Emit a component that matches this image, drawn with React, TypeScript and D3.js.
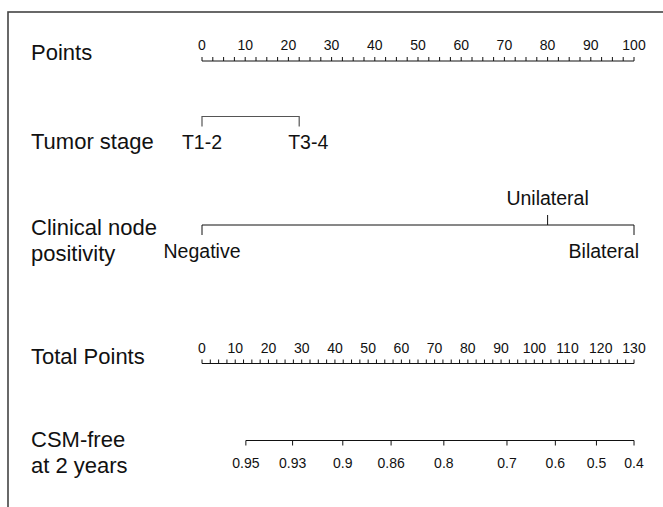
import React from 'react';
import * as d3 from 'd3';

// nomogram rows, values
const pointsLabels = [0, 10, 20, 30, 40, 50, 60, 70, 80, 90, 100];
const totalLabels = [0, 10, 20, 30, 40, 50, 60, 70, 80, 90, 100, 110, 120, 130];
const tumorStages = ['T1-2', 'T3-4'];
const tumorPoints = [0, 22.5];
const nodeCategories = ['Negative', 'Unilateral', 'Bilateral'];
const nodePoints = [0, 80, 100];
const csmTicks = [0.95, 0.93, 0.9, 0.86, 0.8, 0.7, 0.6, 0.5, 0.4];
// survival model: log(-log S) = base + slope * total points
const csmBase = -3.296;
const csmSlope = 0.02468;

const W = 663;
const H = 507;
const x0 = 202;
const x1 = 634;
const labelX = 31;
const font = '"Liberation Sans", Arial, Helvetica, sans-serif';
const ink = '#111';

const xPoints = d3.scaleLinear().domain([0, 100]).range([x0, x1]);
const xTotal = d3.scaleLinear().domain([0, 130]).range([x0, x1]);
const csmToTotal = (s: number) => (Math.log(-Math.log(s)) - csmBase) / csmSlope;

const RowLabel = ({ y, lines }: { y: number; lines: string[] }) => (
  <text x={labelX} y={y} fontSize={22} fill={ink} fontFamily={font}>
    {lines.map((l, i) => (
      <tspan key={l} x={labelX} dy={i === 0 ? 0 : 26}>{l}</tspan>
    ))}
  </text>
);

const ScaleAxis = ({ scale, y, labels, labelY }: any) => {
  const [d0, d1] = scale.domain();
  const minor = d3.range(d0, d1 + 0.001, 2.5);
  return (
    <g>
      <line x1={scale(d0)} x2={scale(d1)} y1={y} y2={y} stroke={ink} strokeWidth={1} />
      {minor.map((v: number) => (
        <line key={v} x1={scale(v)} x2={scale(v)} y1={y} y2={y - 4} stroke={ink} strokeWidth={1} />
      ))}
      {labels.map((v: number) => (
        <text key={v} x={scale(v)} y={labelY} fontSize={14} textAnchor="middle" fill={ink} fontFamily={font}>
          {v}
        </text>
      ))}
    </g>
  );
};

export default function App() {
  const tumorX = tumorPoints.map((p) => xPoints(p));
  const nodeX = nodePoints.map((p) => xPoints(p));
  const csmX = csmTicks.map((s) => xTotal(csmToTotal(s)));
  const tumorY = 116.5;
  const nodeY = 225;
  const csmY = 440.5;
  const catSize = 19.5;

  return (
    <svg width={W} height={H} style={{ position: 'absolute', left: 0, top: 0, background: '#fff' }}>
      <rect x={8} y={12} width={W} height={H} fill="none" stroke="#444" strokeWidth={1.6} />

      <RowLabel y={60} lines={['Points']} />
      <ScaleAxis scale={xPoints} y={61} labels={pointsLabels} labelY={50} />

      <RowLabel y={149} lines={['Tumor stage']} />
      <path
        d={`M${tumorX[0]},${tumorY + 10}V${tumorY}H${tumorX[1]}V${tumorY + 10}`}
        fill="none" stroke="#555" strokeWidth={1.2}
      />
      {tumorStages.map((t, i) => (
        <text key={t} x={tumorX[i] + (i === 1 ? 9 : 0)} y={149} fontSize={catSize} textAnchor="middle" fill={ink} fontFamily={font}>
          {t}
        </text>
      ))}

      <RowLabel y={235} lines={['Clinical node', 'positivity']} />
      <line x1={nodeX[0]} x2={nodeX[2]} y1={nodeY} y2={nodeY} stroke={ink} strokeWidth={1} />
      <line x1={nodeX[0]} x2={nodeX[0]} y1={nodeY} y2={nodeY + 10} stroke={ink} />
      <line x1={nodeX[1]} x2={nodeX[1]} y1={nodeY} y2={nodeY - 10} stroke={ink} />
      <line x1={nodeX[2]} x2={nodeX[2]} y1={nodeY} y2={nodeY + 10} stroke={ink} />
      <text x={nodeX[0]} y={257.5} fontSize={catSize} textAnchor="middle" fill={ink} fontFamily={font}>{nodeCategories[0]}</text>
      <text x={nodeX[1]} y={205} fontSize={catSize} textAnchor="middle" fill={ink} fontFamily={font}>{nodeCategories[1]}</text>
      <text x={nodeX[2] + 5} y={257.5} fontSize={catSize} textAnchor="end" fill={ink} fontFamily={font}>{nodeCategories[2]}</text>

      <RowLabel y={364} lines={['Total Points']} />
      <ScaleAxis scale={xTotal} y={363.5} labels={totalLabels} labelY={353} />

      <RowLabel y={447} lines={['CSM-free', 'at 2 years']} />
      <line x1={csmX[0]} x2={csmX[csmX.length - 1]} y1={csmY} y2={csmY} stroke={ink} strokeWidth={1} />
      {csmTicks.map((s, i) => (
        <g key={s}>
          <line x1={csmX[i]} x2={csmX[i]} y1={csmY} y2={csmY + 5} stroke={ink} />
          <text x={csmX[i]} y={468} fontSize={14} textAnchor="middle" fill={ink} fontFamily={font}>{s}</text>
        </g>
      ))}
    </svg>
  );
}
